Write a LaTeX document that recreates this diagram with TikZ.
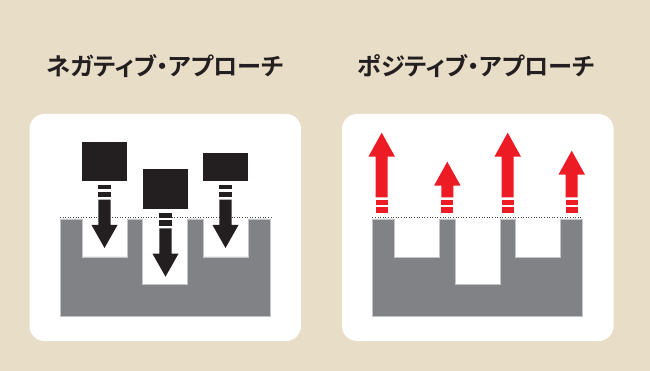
\documentclass[tikz,border=0pt]{standalone}
\usepackage{fontspec}
\newfontfamily\jpfont{Noto Sans CJK JP Bold}[RawFeature=+palt]
\definecolor{beige}{HTML}{E8DDC7}
\definecolor{ink}{HTML}{231F20}
\definecolor{slab}{HTML}{808285}
\definecolor{slabedge}{HTML}{C4C5C7}
\definecolor{redc}{HTML}{ED1C24}
\tikzset{
  panel/.style={fill=white, rounded corners=15pt},
  slabfill/.style={fill=slab, draw=slabedge, line width=0.6pt},
  surface/.style={draw=ink!80, line width=0.6pt, dotted},
  title/.style={font=\jpfont\fontsize{24.2}{28}\selectfont, text=ink, inner sep=0pt, anchor=west},
  box/.style={fill=ink}
}
% red up arrow: #1 center x, #2 tip y
\newcommand\myRedArrow[2]{%
  \fill[redc] ({#1-6},197.3) -- ({#1-6},{#2+24}) -- ({#1-13.3},{#2+24}) -- (#1,#2)
    -- ({#1+13.3},{#2+24}) -- ({#1+6},{#2+24}) -- ({#1+6},197.3) -- cycle;
  \fill[redc] ({#1-6},200) rectangle ({#1+6},205);
  \fill[redc] ({#1-6},207.3) rectangle ({#1+6},212.7);
}
% black down arrow: #1 center x, #2 top of first dash, #3 tip y
\newcommand\myBlackArrow[3]{%
  \fill[ink] ({#1-6.2},#2) rectangle ({#1+6.2},{#2+4.3});
  \fill[ink] ({#1-6.2},{#2+7}) rectangle ({#1+6.2},{#2+12.3});
  \fill[ink] ({#1-6.2},{#2+15}) -- ({#1-6.2},{#3-23}) -- ({#1-13},{#3-23}) -- (#1,#3)
    -- ({#1+13},{#3-23}) -- ({#1+6.2},{#3-23}) -- ({#1+6.2},{#2+15}) -- cycle;
}
\begin{document}
\begin{tikzpicture}[x=1pt,y=-1pt]
\fill[beige] (0,0) rectangle (650,371);
\useasboundingbox (0,0) rectangle (650,371);

% titles
\node[title] (tneg) at (46.5,66.5) {ネガティブ・アプローチ};
\node[title] (tpos) at (357.5,66.5) {ポジティブ・アプローチ};

% panels
\fill[panel] (29.5,114) rectangle (301,341);
\fill[panel] (342,114) rectangle (613.5,341);

% ---- negative approach ----
\draw[slabfill] (60,219) -- (82.3,219) -- (82.3,257) -- (127.3,257) -- (127.3,219)
  -- (142.7,219) -- (142.7,284.3) -- (187.7,284.3) -- (187.7,219)
  -- (203,219) -- (203,257) -- (248,257) -- (248,219) -- (270.7,219)
  -- (270.7,316) -- (60,316) -- cycle;
\draw[surface] (60,217.3) -- (270.7,217.3);
\fill[box] (82.3,142) rectangle (127,181);
\fill[box] (142.7,169) rectangle (188,209);
\fill[box] (203,152.7) rectangle (248,181);
\myBlackArrow{104.5}{184.7}{248}
\myBlackArrow{165.5}{213.3}{276.7}
\myBlackArrow{225.5}{184.7}{248}

% ---- positive approach ----
\draw[slabfill] (372.3,219) -- (394.3,219) -- (394.3,257.3) -- (439.3,257.3) -- (439.3,219)
  -- (455,219) -- (455,284.3) -- (500,284.3) -- (500,219)
  -- (515,219) -- (515,257.3) -- (560,257.3) -- (560,219) -- (582.7,219)
  -- (582.7,316) -- (372.3,316) -- cycle;
\draw[surface] (372.3,217.3) -- (582.7,217.3);
\myRedArrow{381.7}{132.7}
\myRedArrow{447.3}{161.7}
\myRedArrow{507.7}{132.7}
\myRedArrow{571.7}{150.7}
\end{tikzpicture}
\end{document}
